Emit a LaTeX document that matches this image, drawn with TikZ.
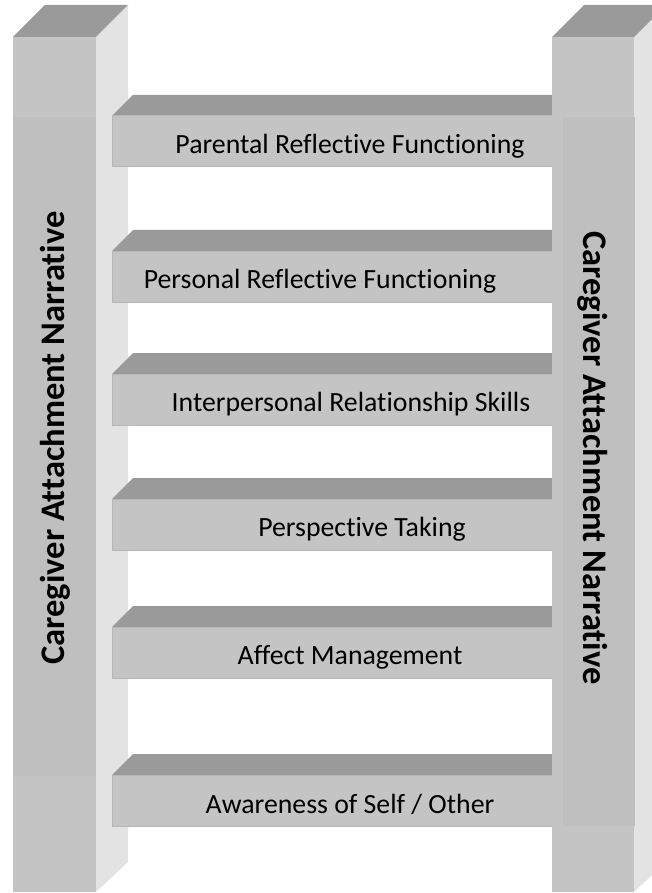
\documentclass[tikz,border=0pt]{standalone}
\usepackage{fontspec}
\setmainfont[Ligatures=NoCommon]{Carlito}

\definecolor{facegray}{HTML}{C4C4C4}
\definecolor{topgray}{HTML}{9A9A9A}
\definecolor{sidegray}{HTML}{E3E3E3}
\definecolor{boxgray}{HTML}{BFBFBF}
\definecolor{edgegray}{HTML}{B6B6B6}

\newcommand*{\postdepth}{32}
\newcommand*{\rungdepth}{21}
\newcommand*{\rungleft}{112}
\newcommand*{\rungright}{552}
\newcommand*{\rungheight}{51}

\begin{document}
\begin{tikzpicture}
[
	x=1pt, y=-1pt,
	postface/.style={fill=facegray},
	posttop/.style={fill=topgray},
	postside/.style={fill=sidegray},
	rungface/.style={fill=facegray,draw=edgegray,line width=1pt},
	rungtop/.style={fill=topgray},
	rungtext/.style={font=\fontsize{27.8}{32}\selectfont,text=black},
	posttext/.style={font=\bfseries\fontsize{34.5}{40}\selectfont,text=black}
]
	\useasboundingbox (0,0) rectangle (651,893);

	% left post
	\fill[postside] (96,37) -- (96+\postdepth,37-\postdepth) -- (128,862) -- (96,892) -- cycle;
	\fill[posttop] (13,37) -- (13+\postdepth,37-\postdepth) -- (96+\postdepth,37-\postdepth) -- (96,37) -- cycle;
	\fill[postface] (13,37) rectangle (96,892);
	\fill[boxgray] (13,117) rectangle (96,776);
	\node[posttext,rotate=90] (leftpost) at (55,438) {Caregiver Attachment Narrative};

	% rungs
	\foreach \y in {116,251,374,499,627,775} {
		\fill[rungtop] (\rungleft,\y) -- (\rungleft+\rungdepth,\y-\rungdepth)
			-- (\rungright,\y-\rungdepth) -- (\rungright,\y) -- cycle;
		\draw[rungface] (\rungleft,\y) rectangle (\rungright,\y+\rungheight);
	}

	% right post, in front of the rung ends
	\fill[postside] (634,37) -- (634+\postdepth,37-\postdepth) -- (666,862) -- (634,892) -- cycle;
	\fill[posttop] (552,37) -- (552+\postdepth,37-\postdepth) -- (634+\postdepth,37-\postdepth) -- (634,37) -- cycle;
	\fill[postface] (552,37) rectangle (634,892);
	\fill[boxgray] (563,117) rectangle (635,826);
	\node[posttext,rotate=-90] (rightpost) at (593,458) {Caregiver Attachment Narrative};

	% rung labels
	\node[rungtext] (parental) at (350,146) {Parental Reflective Functioning};
	\node[rungtext] (personal) at (320,281) {Personal Reflective Functioning};
	\node[rungtext] (interpersonal) at (351,404) {Interpersonal Relationship Skills};
	\node[rungtext] (perspective) at (362,529) {Perspective Taking};
	\node[rungtext] (affect) at (350,657) {Affect Management};
	\node[rungtext] (awareness) at (350,804) {Awareness of Self / Other};

\end{tikzpicture}
\end{document}
